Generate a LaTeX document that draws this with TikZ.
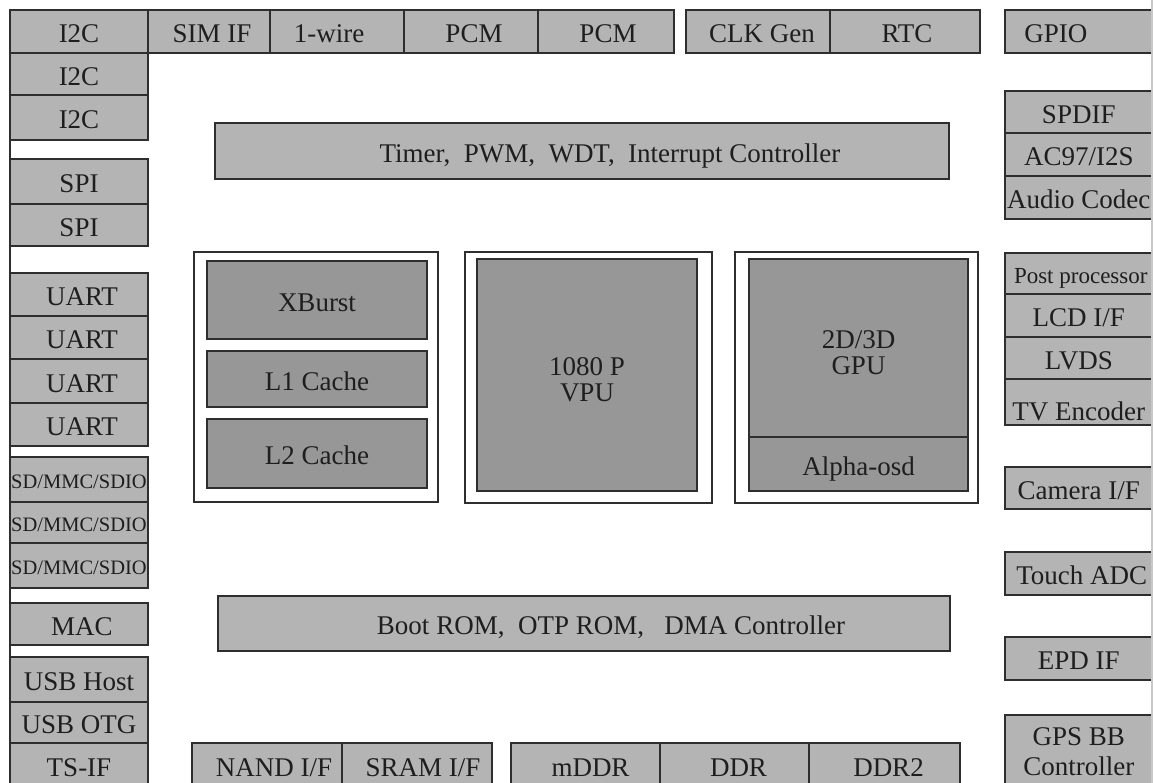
\documentclass[tikz,border=0pt]{standalone}
\usepackage{fontspec}
\setmainfont{Liberation Serif}
\definecolor{lightc}{HTML}{B4B4B4}
\definecolor{darkc}{HTML}{979797}
\definecolor{edgec}{HTML}{2E2E2E}
\definecolor{txtc}{HTML}{1E1E1E}
\definecolor{rimc}{HTML}{C8C8C8}
\tikzset{
  base/.style={draw=edgec, line width=1.8pt, inner sep=0pt, outer sep=0pt, text=txtc, font=\fontsize{27}{26}\selectfont},
  lbox/.style={base, fill=lightc, text height=22.5pt, text depth=0pt},
  dbox/.style={base, fill=darkc, text height=22.5pt, text depth=0pt},
  dmbox/.style={base, fill=darkc, align=center},
  lmbox/.style={base, fill=lightc, align=center},
  framebox/.style={base, fill=white},
  leftrim/.style={draw=edgec, line width=1.8pt},
  rightrim/.style={draw=rimc, line width=2.4pt},
}
% #1 style, #2 name, #3 x1, #4 y1, #5 x2, #6 y2, #7 text
\newcommand\blk[7][lbox]{%
  \node[#1, minimum width={(#5-#3)*1pt}, minimum height={(#6-#4)*1pt}] (#2) at ({(#3+#5)/2},{(#4+#6)/2}) {#7};}
\begin{document}
\begin{tikzpicture}[x=1pt,y=-1pt]
\clip (0,0) rectangle (1153,782);
\fill[white] (0,0) rectangle (1153,782);
% left rim
\draw[leftrim] (10,10) -- (10,800);
% top row
\blk{i2cA}{10}{10}{148}{53}{I2C}
\blk{sim}{148}{10}{270}{53}{\hspace*{6pt}SIM IF}
\blk{wire}{270}{10}{404}{53}{1-wire\hspace*{16pt}}
\blk{pcmA}{404}{10}{538}{53}{\hspace*{6pt}PCM}
\blk{pcmB}{538}{10}{674}{53}{\hspace*{4pt}PCM}
\blk{clk}{686}{10}{830}{53}{\hspace*{8pt}CLK Gen}
\blk{rtc}{830}{10}{980}{53}{\hspace*{4pt}RTC}
\blk{gpio}{1005}{10}{1152.5}{53}{GPIO\hspace*{46pt}}
% left column
\blk{i2cB}{10}{53}{148}{95}{I2C}
\blk{i2cC}{10}{95}{148}{140}{I2C}
\blk{spiA}{10}{159}{148}{204}{SPI}
\blk{spiB}{10}{204}{148}{246}{SPI}
\blk{uartA}{10}{273}{148}{316}{\hspace*{6pt}UART}
\blk{uartB}{10}{316}{148}{359}{\hspace*{6pt}UART}
\blk{uartC}{10}{359}{148}{403}{\hspace*{6pt}UART}
\blk{uartD}{10}{403}{148}{446}{\hspace*{6pt}UART}
\blk[lbox,font=\fontsize{20.5}{21}\selectfont,text height=18pt]{sdA}{10}{457}{148}{502}{SD/MMC/SDIO}
\blk[lbox,font=\fontsize{20.5}{21}\selectfont,text height=18pt]{sdB}{10}{502}{148}{543}{SD/MMC/SDIO}
\blk[lbox,font=\fontsize{20.5}{21}\selectfont,text height=18pt]{sdC}{10}{543}{148}{588}{SD/MMC/SDIO}
\blk{mac}{10}{603}{148}{645}{\hspace*{6pt}MAC}
\blk{usbh}{10}{657}{148}{702}{USB Host}
\blk{usbo}{10}{702}{148}{743}{USB OTG}
\blk{tsif}{10}{743}{148}{788}{TS-IF}
% right column
\blk{spdif}{1005}{91}{1152.5}{133}{SPDIF}
\blk{ac97}{1005}{133}{1152.5}{176}{AC97/I2S}
\blk{codec}{1005}{176}{1152.5}{219}{Audio Codec}
\blk[lbox,font=\fontsize{23}{23}\selectfont,text height=19.5pt]{post}{1005}{253}{1152.5}{294}{\hspace*{4pt}Post processor}
\blk{lcd}{1005}{294}{1152.5}{337}{LCD I/F}
\blk{lvds}{1005}{337}{1152.5}{379}{LVDS}
\blk{tv}{1005}{379}{1152.5}{425}{\raisebox{-7pt}{TV Encoder}}
\blk{cam}{1005}{467}{1152.5}{509}{Camera I/F}
\blk{touch}{1005}{552}{1152.5}{595}{\hspace*{6pt}Touch ADC}
\blk{epd}{1005}{637}{1152.5}{680}{EPD IF}
\blk[lmbox]{gps}{1005}{715}{1152.5}{788}{GPS BB\\[4pt]Controller}
% bars
\blk{timer}{215}{123}{949}{179}{\hspace*{56pt}Timer,\ \ PWM,\ \ WDT,\ \ Interrupt Controller}
\blk{boot}{218}{596}{950}{651}{\hspace*{54pt}Boot ROM,\ \ OTP ROM,\ \ \ DMA Controller}
% CPU cluster
\blk[framebox]{cpu}{194}{252}{438}{502}{}
\blk[dbox]{xburst}{207}{261}{427}{339}{XBurst}
\blk[dbox]{lone}{207}{351}{427}{407}{L1 Cache}
\blk[dbox]{ltwo}{207}{419}{427}{488}{L2 Cache}
% VPU
\blk[framebox]{vpuframe}{465}{252}{712}{503}{}
\blk[dmbox]{vpu}{477}{259}{697}{491}{\rule{0pt}{27pt}1080 P\\VPU}
% GPU
\blk[framebox]{gpuframe}{735}{252}{978}{503}{}
\blk[dmbox]{gpu}{749}{259}{968}{437}{\rule{0pt}{27pt}2D/3D\\GPU}
\blk[dbox]{alpha}{749}{437}{968}{491}{Alpha-osd}
% bottom row
\blk{nand}{192}{743}{342}{788}{\hspace*{14pt}NAND I/F}
\blk{sram}{342}{743}{492}{788}{\hspace*{12pt}SRAM I/F}
\blk{mddr}{511}{743}{660}{788}{\hspace*{10pt}mDDR}
\blk{ddr}{660}{743}{809}{788}{\hspace*{8pt}DDR}
\blk{ddrtwo}{809}{743}{960}{788}{\hspace*{8pt}DDR2}
% right rim
\draw[rightrim] (1152.3,0) -- (1152.3,800);
\end{tikzpicture}
\end{document}
